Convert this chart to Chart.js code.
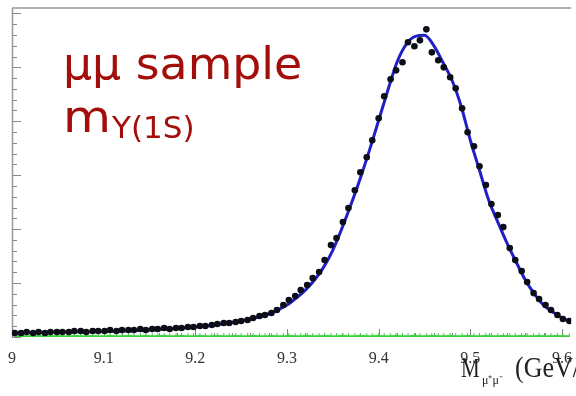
<!DOCTYPE html>
<html>
<head>
<meta charset="utf-8">
<script src="https://cdn.jsdelivr.net/npm/chart.js@4.4.1/dist/chart.umd.min.js"></script>
<style>
  html, body { margin: 0; padding: 0; background: #fff; }
  #wrap { width: 576px; height: 396px; }
</style>
</head>
<body>
<div id="wrap"><canvas id="c" width="576" height="396"></canvas></div>
<script>
// bin centres (GeV)
var binX = [9.003, 9.010, 9.016, 9.023, 9.029, 9.036, 9.042, 9.049, 9.055, 9.062,
  9.068, 9.075, 9.081, 9.088, 9.094, 9.101, 9.107, 9.114, 9.120, 9.127,
  9.133, 9.140, 9.146, 9.153, 9.159, 9.166, 9.172, 9.179, 9.185, 9.192,
  9.198, 9.205, 9.211, 9.218, 9.224, 9.231, 9.237, 9.244, 9.250, 9.257,
  9.263, 9.270, 9.276, 9.283, 9.289, 9.296, 9.302, 9.309, 9.315, 9.322,
  9.328, 9.335, 9.341, 9.348, 9.354, 9.361, 9.367, 9.374, 9.380, 9.387,
  9.393, 9.400, 9.406, 9.413, 9.419, 9.426, 9.432, 9.439, 9.445, 9.452,
  9.458, 9.465, 9.471, 9.478, 9.484, 9.491, 9.497, 9.504, 9.510, 9.517,
  9.523, 9.530, 9.536, 9.543, 9.549, 9.556, 9.562, 9.569, 9.575, 9.582,
  9.588, 9.595, 9.601, 9.608];

// events per bin (data points)
var dataY = [37, 37, 46, 37, 46, 37, 46, 46, 46, 46,
  56, 56, 46, 56, 56, 56, 65, 56, 65, 65,
  65, 74, 65, 74, 74, 83, 74, 83, 83, 93,
  93, 102, 102, 111, 120, 130, 130, 139, 148, 157,
  176, 194, 204, 222, 250, 296, 343, 380, 435, 482,
  546, 602, 713, 852, 917, 1065, 1195, 1361, 1528, 1667,
  1824, 2028, 2232, 2389, 2472, 2547, 2732, 2695, 2750, 2852,
  2639, 2565, 2500, 2408, 2306, 2121, 1898, 1769, 1583, 1408,
  1232, 1130, 1019, 824, 713, 611, 509, 407, 352, 296,
  250, 204, 167, 148];

// background component (green)
var bgY = [8, 9, 8, 8, 9, 8, 8, 9, 8, 8,
  9, 8, 8, 9, 8, 8, 9, 8, 8, 9,
  8, 8, 9, 8, 8, 9, 8, 8, 9, 8,
  8, 9, 8, 8, 9, 8, 8, 9, 8, 8,
  9, 8, 8, 9, 8, 8, 9, 8, 8, 9,
  8, 8, 9, 8, 8, 9, 8, 8, 9, 8,
  8, 9, 8, 8, 9, 8, 8, 9, 8, 8,
  9, 8, 8, 9, 8, 8, 9, 8, 8, 9,
  8, 8, 9, 8, 8, 9, 8, 8, 9, 8,
  8, 9, 8, 8];

// fit curve
var fitX = [9.00, 9.05, 9.10, 9.15, 9.20, 9.22, 9.24, 9.26, 9.28, 9.29,
  9.30, 9.31, 9.32, 9.33, 9.34, 9.35, 9.36, 9.37, 9.38, 9.39,
  9.40, 9.41, 9.42, 9.43, 9.44, 9.45, 9.46, 9.47, 9.48, 9.49,
  9.50, 9.51, 9.52, 9.53, 9.54, 9.55, 9.56, 9.57, 9.58, 9.59,
  9.60, 9.61];
var fitY = [37, 46, 51, 65, 93, 111, 134, 167, 213, 250,
  296, 361, 435, 528, 648, 806, 1009, 1232, 1472, 1732,
  2009, 2287, 2547, 2713, 2787, 2797, 2704, 2547, 2380, 2139,
  1824, 1546, 1269, 1065, 870, 695, 528, 398, 296, 232,
  176, 139];

var xTickLabels = ['9', '9.1', '9.2', '9.3', '9.4', '9.5', '9.6'];

function pts(xs, ys) {
  var out = [];
  for (var i = 0; i < xs.length; i++) out.push({ x: xs[i], y: ys[i] });
  return out;
}

// ROOT style frame: ticks inside the frame
var framePlugin = {
  id: 'frame',
  beforeDatasetsDraw: function (chart) {
    var ctx = chart.ctx, a = chart.chartArea;
    var xs = chart.scales.x, ys = chart.scales.y;
    ctx.save();
    ctx.strokeStyle = '#999';
    ctx.lineWidth = 1.5;
    ctx.beginPath();
    ctx.moveTo(a.left, a.top); ctx.lineTo(a.right, a.top);
    ctx.moveTo(a.left + 0.5, a.top); ctx.lineTo(a.left + 0.5, a.bottom);
    ctx.stroke();
    ctx.lineWidth = 1;
    ctx.strokeStyle = '#888';
    ctx.beginPath();
    for (var v = 0; v <= 3000; v += 100) {
      var py = Math.round(ys.getPixelForValue(v)) + 0.5;
      var len = (v % 500 === 0) ? 9 : 5;
      ctx.moveTo(a.left, py); ctx.lineTo(a.left + len, py);
    }
    for (var i = 0; i <= 30; i++) {
      var xv = 9.0 + i * 0.02;
      var px = Math.round(xs.getPixelForValue(xv)) + 0.5;
      var l2 = (i % 5 === 0) ? 8 : 4;
      ctx.moveTo(px, a.bottom); ctx.lineTo(px, a.bottom - l2);
    }
    ctx.stroke();
    ctx.restore();
  },
  afterDraw: function (chart) {
    var ctx = chart.ctx;
    ctx.save();
    ctx.fillStyle = '#a30d0a';
    ctx.textBaseline = 'alphabetic';
    ctx.font = '44px "DejaVu Sans"';
    ctx.save();
    ctx.translate(63, 79);
    ctx.scale(1.04, 1);
    ctx.fillText('μμ sample', 0, 0);
    ctx.restore();
    ctx.save();
    ctx.translate(63, 132);
    ctx.scale(1.12, 1);
    ctx.fillText('m', 0, 0);
    ctx.restore();
    ctx.font = '31px "DejaVu Sans"';
    ctx.fillText('Y(1S)', 112, 138);

    // axis title
    ctx.fillStyle = '#222';
    ctx.save();
    ctx.translate(461, 377);
    ctx.scale(1, 1.3);
    ctx.font = '21px "Liberation Serif"';
    ctx.fillText('M', 0, 0);
    ctx.restore();
    ctx.font = '12px "Liberation Serif"';
    ctx.fillText('μ⁺μ⁻', 482, 384);
    ctx.save();
    ctx.translate(515, 377);
    ctx.scale(1, 1.15);
    ctx.font = '26px "Liberation Serif"';
    ctx.fillText('(GeV/c²)', 0, 0);
    ctx.restore();
    ctx.restore();
  }
};

new Chart(document.getElementById('c'), {
  type: 'line',
  data: {
    datasets: [
      {
        label: 'data',
        data: pts(binX, dataY),
        showLine: false,
        pointRadius: 3.3,
        pointBackgroundColor: '#0d0d18',
        pointBorderWidth: 0,
        order: 0
      },
      {
        label: 'fit',
        data: pts(fitX, fitY),
        borderColor: '#2020c8',
        borderWidth: 3,
        pointRadius: 0,
        cubicInterpolationMode: 'monotone',
        fill: false,
        order: 1
      },
      {
        label: 'background',
        data: pts(binX, bgY),
        borderColor: '#3ccf3c',
        borderWidth: 2,
        pointStyle: 'line',
        rotation: 90,
        pointRadius: 3,
        pointBorderColor: '#3ccf3c',
        pointBorderWidth: 1,
        order: 2
      }
    ]
  },
  options: {
    responsive: false,
    animation: false,
    layout: { padding: { left: 12, top: 8, right: 0, bottom: 0 }, autoPadding: false },
    plugins: { legend: { display: false }, tooltip: { enabled: false } },
    scales: {
      x: {
        type: 'linear',
        min: 9.0,
        max: 9.61,
        grid: { display: false },
        border: { display: false },
        afterFit: function (s) { s.height = 59; },
        ticks: {
          stepSize: 0.1,
          includeBounds: false,
          padding: 4,
          color: '#333',
          font: { family: 'Liberation Serif', size: 16 },
          maxRotation: 0,
          autoSkip: false,
          callback: function (v, i) { return xTickLabels[i]; }
        }
      },
      y: {
        display: false,
        min: 0,
        max: 3050
      }
    }
  },
  plugins: [framePlugin]
});
</script>
</body>
</html>
